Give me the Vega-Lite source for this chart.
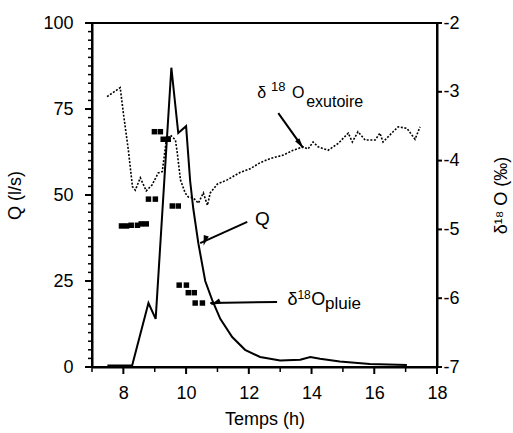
{
  "$schema": "https://vega.github.io/schema/vega-lite/v6.json",
  "width": 345,
  "height": 344,
  "autosize": "none",
  "padding": {"left": 92, "top": 23, "right": 76, "bottom": 66},
  "background": "white",
  "config": {
    "view": {"stroke": "black", "strokeWidth": 2},
    "font": "Liberation Sans",
    "axis": {
      "domainColor": "black", "domainWidth": 2, "tickColor": "black", "tickOpacity": 0,
      "labelColor": "black", "titleColor": "black", "labelFont": "Liberation Sans",
      "titleFont": "Liberation Sans", "labelFontSize": 18, "titleFontSize": 18,
      "titleFontWeight": "normal", "grid": false, "labelFlush": false
    }
  },
  "datasets": {
    "q": [
      {"h": 7.49, "Q": 0.4}, {"h": 8.28, "Q": 0.4}, {"h": 8.8, "Q": 18.6}, {"h": 9.03, "Q": 14.0},
      {"h": 9.53, "Q": 87}, {"h": 9.75, "Q": 68}, {"h": 10.0, "Q": 70}, {"h": 10.13, "Q": 54},
      {"h": 10.23, "Q": 46}, {"h": 10.39, "Q": 36}, {"h": 10.61, "Q": 25}, {"h": 10.83, "Q": 19.5},
      {"h": 11.09, "Q": 14}, {"h": 11.47, "Q": 8.7}, {"h": 11.88, "Q": 5}, {"h": 12.36, "Q": 2.9},
      {"h": 13.0, "Q": 1.9}, {"h": 13.64, "Q": 2.1}, {"h": 13.96, "Q": 2.9}, {"h": 14.27, "Q": 2.4},
      {"h": 14.9, "Q": 1.6}, {"h": 15.86, "Q": 0.9}, {"h": 17.04, "Q": 0.6}
    ],
    "exu": [
      {"h": 7.48, "d": -3.07}, {"h": 7.90, "d": -2.94}, {"h": 8.00, "d": -3.31}, {"h": 8.16, "d": -3.85},
      {"h": 8.29, "d": -4.38}, {"h": 8.38, "d": -4.43}, {"h": 8.54, "d": -4.25}, {"h": 8.73, "d": -4.44},
      {"h": 8.92, "d": -4.35}, {"h": 9.11, "d": -4.18}, {"h": 9.24, "d": -4.16}, {"h": 9.37, "d": -3.70},
      {"h": 9.50, "d": -3.63}, {"h": 9.66, "d": -3.70}, {"h": 9.72, "d": -3.89}, {"h": 9.82, "d": -4.28},
      {"h": 9.97, "d": -4.47}, {"h": 10.07, "d": -4.53}, {"h": 10.23, "d": -4.54}, {"h": 10.39, "d": -4.62},
      {"h": 10.55, "d": -4.47}, {"h": 10.68, "d": -4.65}, {"h": 10.77, "d": -4.47}, {"h": 11.0, "d": -4.34},
      {"h": 11.31, "d": -4.28}, {"h": 11.73, "d": -4.17}, {"h": 12.04, "d": -4.12}, {"h": 12.36, "d": -4.03},
      {"h": 12.68, "d": -3.97}, {"h": 13.10, "d": -3.92}, {"h": 13.41, "d": -3.85}, {"h": 13.73, "d": -3.80},
      {"h": 13.89, "d": -3.83}, {"h": 14.05, "d": -3.73}, {"h": 14.21, "d": -3.80}, {"h": 14.53, "d": -3.85},
      {"h": 14.85, "d": -3.75}, {"h": 15.17, "d": -3.60}, {"h": 15.30, "d": -3.73}, {"h": 15.48, "d": -3.58},
      {"h": 15.71, "d": -3.70}, {"h": 16.03, "d": -3.70}, {"h": 16.18, "d": -3.60}, {"h": 16.28, "d": -3.73},
      {"h": 16.60, "d": -3.58}, {"h": 16.76, "d": -3.51}, {"h": 17.04, "d": -3.53}, {"h": 17.30, "d": -3.69},
      {"h": 17.46, "d": -3.51}
    ],
    "pluie": [
      {"h": 7.94, "d": -4.95}, {"h": 8.10, "d": -4.95}, {"h": 8.25, "d": -4.94}, {"h": 8.45, "d": -4.94},
      {"h": 8.57, "d": -4.92}, {"h": 8.73, "d": -4.92},
      {"h": 8.80, "d": -4.56}, {"h": 9.02, "d": -4.56},
      {"h": 8.99, "d": -3.58}, {"h": 9.18, "d": -3.58},
      {"h": 9.27, "d": -3.69}, {"h": 9.43, "d": -3.69},
      {"h": 9.56, "d": -4.66}, {"h": 9.75, "d": -4.66},
      {"h": 9.78, "d": -5.81}, {"h": 10.01, "d": -5.81},
      {"h": 10.07, "d": -5.92}, {"h": 10.26, "d": -5.92},
      {"h": 10.29, "d": -6.07}, {"h": 10.52, "d": -6.07}
    ],
    "labels": [
      {"t": "δ", "h": 12.27, "y": 78.2, "role": "m16"},
      {"t": "18", "h": 12.71, "y": 80.2, "role": "s13"},
      {"t": "O", "h": 13.38, "y": 78.2, "role": "m16"},
      {"t": "exutoire", "h": 13.83, "y": 75.6, "role": "m16"},
      {"t": "Q", "h": 12.2, "y": 41.3, "role": "m19"},
      {"t": "δ", "h": 13.23, "y": 18.0, "role": "m18"},
      {"t": "18", "h": 13.55, "y": 19.9, "role": "s12"},
      {"t": "O", "h": 13.99, "y": 18.0, "role": "m18"},
      {"t": "pluie", "h": 14.43, "y": 16.8, "role": "m17"}
    ],
    "arrows": [
      {"name": "exu", "h": 12.94, "y": 73.8, "h2": 13.73, "y2": 63.7, "hh": 13.64, "yh": 64.8},
      {"name": "q", "h": 11.95, "y": 42.2, "h2": 10.45, "y2": 36.0, "hh": 10.60, "yh": 36.7},
      {"name": "pluie", "h": 12.90, "y": 18.9, "h2": 10.77, "y2": 18.6, "hh": 10.93, "yh": 18.6}
    ],
    "xmaj": [{"v": 8}, {"v": 10}, {"v": 12}, {"v": 14}, {"v": 16}, {"v": 18}],
    "xmin": [{"v": 7}, {"v": 9}, {"v": 11}, {"v": 13}, {"v": 15}, {"v": 17}],
    "ymaj": [{"v": 0}, {"v": 25}, {"v": 50}, {"v": 75}, {"v": 100}],
    "ymin": [
      {"v": 2.5}, {"v": 5}, {"v": 7.5}, {"v": 10}, {"v": 12.5}, {"v": 15}, {"v": 17.5}, {"v": 20}, {"v": 22.5},
      {"v": 27.5}, {"v": 30}, {"v": 32.5}, {"v": 35}, {"v": 37.5}, {"v": 40}, {"v": 42.5}, {"v": 45}, {"v": 47.5},
      {"v": 52.5}, {"v": 55}, {"v": 57.5}, {"v": 60}, {"v": 62.5}, {"v": 65}, {"v": 67.5}, {"v": 70}, {"v": 72.5},
      {"v": 77.5}, {"v": 80}, {"v": 82.5}, {"v": 85}, {"v": 87.5}, {"v": 90}, {"v": 92.5}, {"v": 95}, {"v": 97.5}
    ],
    "rmaj": [{"v": -7}, {"v": -6}, {"v": -5}, {"v": -4}, {"v": -3}, {"v": -2}]
  },
  "layer": [
    {
      "resolve": {"axis": {"x": "independent", "y": "independent"}},
      "layer": [
        {
          "data": {"name": "q"},
          "mark": {"type": "line", "color": "black", "strokeWidth": 2},
          "encoding": {
            "x": {"field": "h", "type": "quantitative",
              "scale": {"domain": [7, 18], "nice": false, "zero": false},
              "axis": {"title": "Temps (h)", "values": [8, 10, 12, 14, 16, 18],
                "tickSize": 7, "labelPadding": 10, "titlePadding": 8}},
            "y": {"field": "Q", "type": "quantitative",
              "scale": {"domain": [0, 100], "nice": false},
              "axis": {"title": "Q (l/s)", "orient": "left", "values": [0, 25, 50, 75, 100],
                "tickSize": 7, "labelPadding": 12, "titlePadding": 18}}
          }
        },
        {
          "data": {"name": "xmaj"},
          "mark": {"type": "tick", "orient": "vertical", "color": "black", "opacity": 1, "size": 7, "thickness": 2, "yOffset": 3.5},
          "encoding": {
            "x": {"field": "v", "type": "quantitative", "axis": null},
            "y": {"datum": 0, "type": "quantitative", "axis": null}
          }
        },
        {
          "data": {"name": "xmin"},
          "mark": {"type": "tick", "orient": "vertical", "color": "black", "opacity": 1, "size": 5, "thickness": 1.5, "yOffset": 2.5},
          "encoding": {
            "x": {"field": "v", "type": "quantitative", "axis": null},
            "y": {"datum": 0, "type": "quantitative", "axis": null}
          }
        },
        {
          "data": {"name": "ymaj"},
          "mark": {"type": "tick", "orient": "horizontal", "color": "black", "opacity": 1, "size": 7, "thickness": 2, "xOffset": -3.5},
          "encoding": {
            "x": {"datum": 7, "type": "quantitative", "axis": null},
            "y": {"field": "v", "type": "quantitative", "axis": null}
          }
        },
        {
          "data": {"name": "ymin"},
          "mark": {"type": "tick", "orient": "horizontal", "color": "black", "opacity": 1, "size": 4, "thickness": 1.5, "xOffset": -2},
          "encoding": {
            "x": {"datum": 7, "type": "quantitative", "axis": null},
            "y": {"field": "v", "type": "quantitative", "axis": null}
          }
        },
        {
          "data": {"name": "labels"},
          "transform": [{"filter": "datum.role === 'm16'"}],
          "mark": {"type": "text", "align": "left", "baseline": "alphabetic", "color": "black", "font": "Liberation Sans", "fontSize": 16},
          "encoding": {
            "x": {"field": "h", "type": "quantitative", "axis": null},
            "y": {"field": "y", "type": "quantitative", "axis": null},
            "text": {"field": "t"}
          }
        },
        {
          "data": {"name": "labels"},
          "transform": [{"filter": "datum.role === 'm18'"}],
          "mark": {"type": "text", "align": "left", "baseline": "alphabetic", "color": "black", "font": "Liberation Sans", "fontSize": 18},
          "encoding": {
            "x": {"field": "h", "type": "quantitative", "axis": null},
            "y": {"field": "y", "type": "quantitative", "axis": null},
            "text": {"field": "t"}
          }
        },
        {
          "data": {"name": "labels"},
          "transform": [{"filter": "datum.role === 'm17'"}],
          "mark": {"type": "text", "align": "left", "baseline": "alphabetic", "color": "black", "font": "Liberation Sans", "fontSize": 17},
          "encoding": {
            "x": {"field": "h", "type": "quantitative", "axis": null},
            "y": {"field": "y", "type": "quantitative", "axis": null},
            "text": {"field": "t"}
          }
        },
        {
          "data": {"name": "labels"},
          "transform": [{"filter": "datum.role === 'm19'"}],
          "mark": {"type": "text", "align": "left", "baseline": "alphabetic", "color": "black", "font": "Liberation Sans", "fontSize": 19},
          "encoding": {
            "x": {"field": "h", "type": "quantitative", "axis": null},
            "y": {"field": "y", "type": "quantitative", "axis": null},
            "text": {"field": "t"}
          }
        },
        {
          "data": {"name": "labels"},
          "transform": [{"filter": "datum.role === 's13'"}],
          "mark": {"type": "text", "align": "left", "baseline": "alphabetic", "color": "black", "font": "Liberation Sans", "fontSize": 13},
          "encoding": {
            "x": {"field": "h", "type": "quantitative", "axis": null},
            "y": {"field": "y", "type": "quantitative", "axis": null},
            "text": {"field": "t"}
          }
        },
        {
          "data": {"name": "labels"},
          "transform": [{"filter": "datum.role === 's12'"}],
          "mark": {"type": "text", "align": "left", "baseline": "alphabetic", "color": "black", "font": "Liberation Sans", "fontSize": 12},
          "encoding": {
            "x": {"field": "h", "type": "quantitative", "axis": null},
            "y": {"field": "y", "type": "quantitative", "axis": null},
            "text": {"field": "t"}
          }
        },
        {
          "data": {"name": "arrows"},
          "mark": {"type": "rule", "color": "black", "strokeWidth": 2},
          "encoding": {
            "x": {"field": "h", "type": "quantitative", "axis": null},
            "y": {"field": "y", "type": "quantitative", "axis": null},
            "x2": {"field": "h2"},
            "y2": {"field": "y2"}
          }
        },
        {
          "data": {"name": "arrows"},
          "mark": {"type": "point", "filled": true, "color": "black", "opacity": 1, "shape": "M0,-1L0.5,1L-0.5,1Z", "size": 110},
          "encoding": {
            "x": {"field": "hh", "type": "quantitative", "axis": null},
            "y": {"field": "yh", "type": "quantitative", "axis": null},
            "angle": {"field": "name", "type": "nominal", "legend": null,
              "scale": {"domain": ["exu", "q", "pluie"], "range": [144.5, 246, 269]}}
          }
        }
      ]
    },
    {
      "resolve": {"axis": {"x": "independent", "y": "independent"}},
      "layer": [
        {
          "data": {"name": "exu"},
          "mark": {"type": "line", "color": "black", "strokeWidth": 1.6, "strokeDash": [2, 1.6]},
          "encoding": {
            "x": {"field": "h", "type": "quantitative", "axis": null},
            "y": {"field": "d", "type": "quantitative",
              "scale": {"domain": [-7, -2], "nice": false, "zero": false},
              "axis": {"title": "δ¹⁸ O (‰)", "orient": "right", "values": [-7, -6, -5, -4, -3, -2],
                "labelExpr": "'' + datum.value", "tickSize": 5, "labelPadding": 1,
                "titleAngle": -90, "titlePadding": 51}}
          }
        },
        {
          "data": {"name": "rmaj"},
          "mark": {"type": "tick", "orient": "horizontal", "color": "black", "opacity": 1, "size": 5, "thickness": 2, "xOffset": 2.5},
          "encoding": {
            "x": {"datum": 18, "type": "quantitative", "axis": null},
            "y": {"field": "v", "type": "quantitative", "axis": null}
          }
        },
        {
          "data": {"name": "pluie"},
          "mark": {"type": "point", "shape": "square", "filled": true, "color": "black", "opacity": 1, "size": 30},
          "encoding": {
            "x": {"field": "h", "type": "quantitative", "axis": null},
            "y": {"field": "d", "type": "quantitative", "axis": null}
          }
        }
      ]
    }
  ],
  "resolve": {"scale": {"y": "independent"}, "axis": {"x": "independent"}}
}
